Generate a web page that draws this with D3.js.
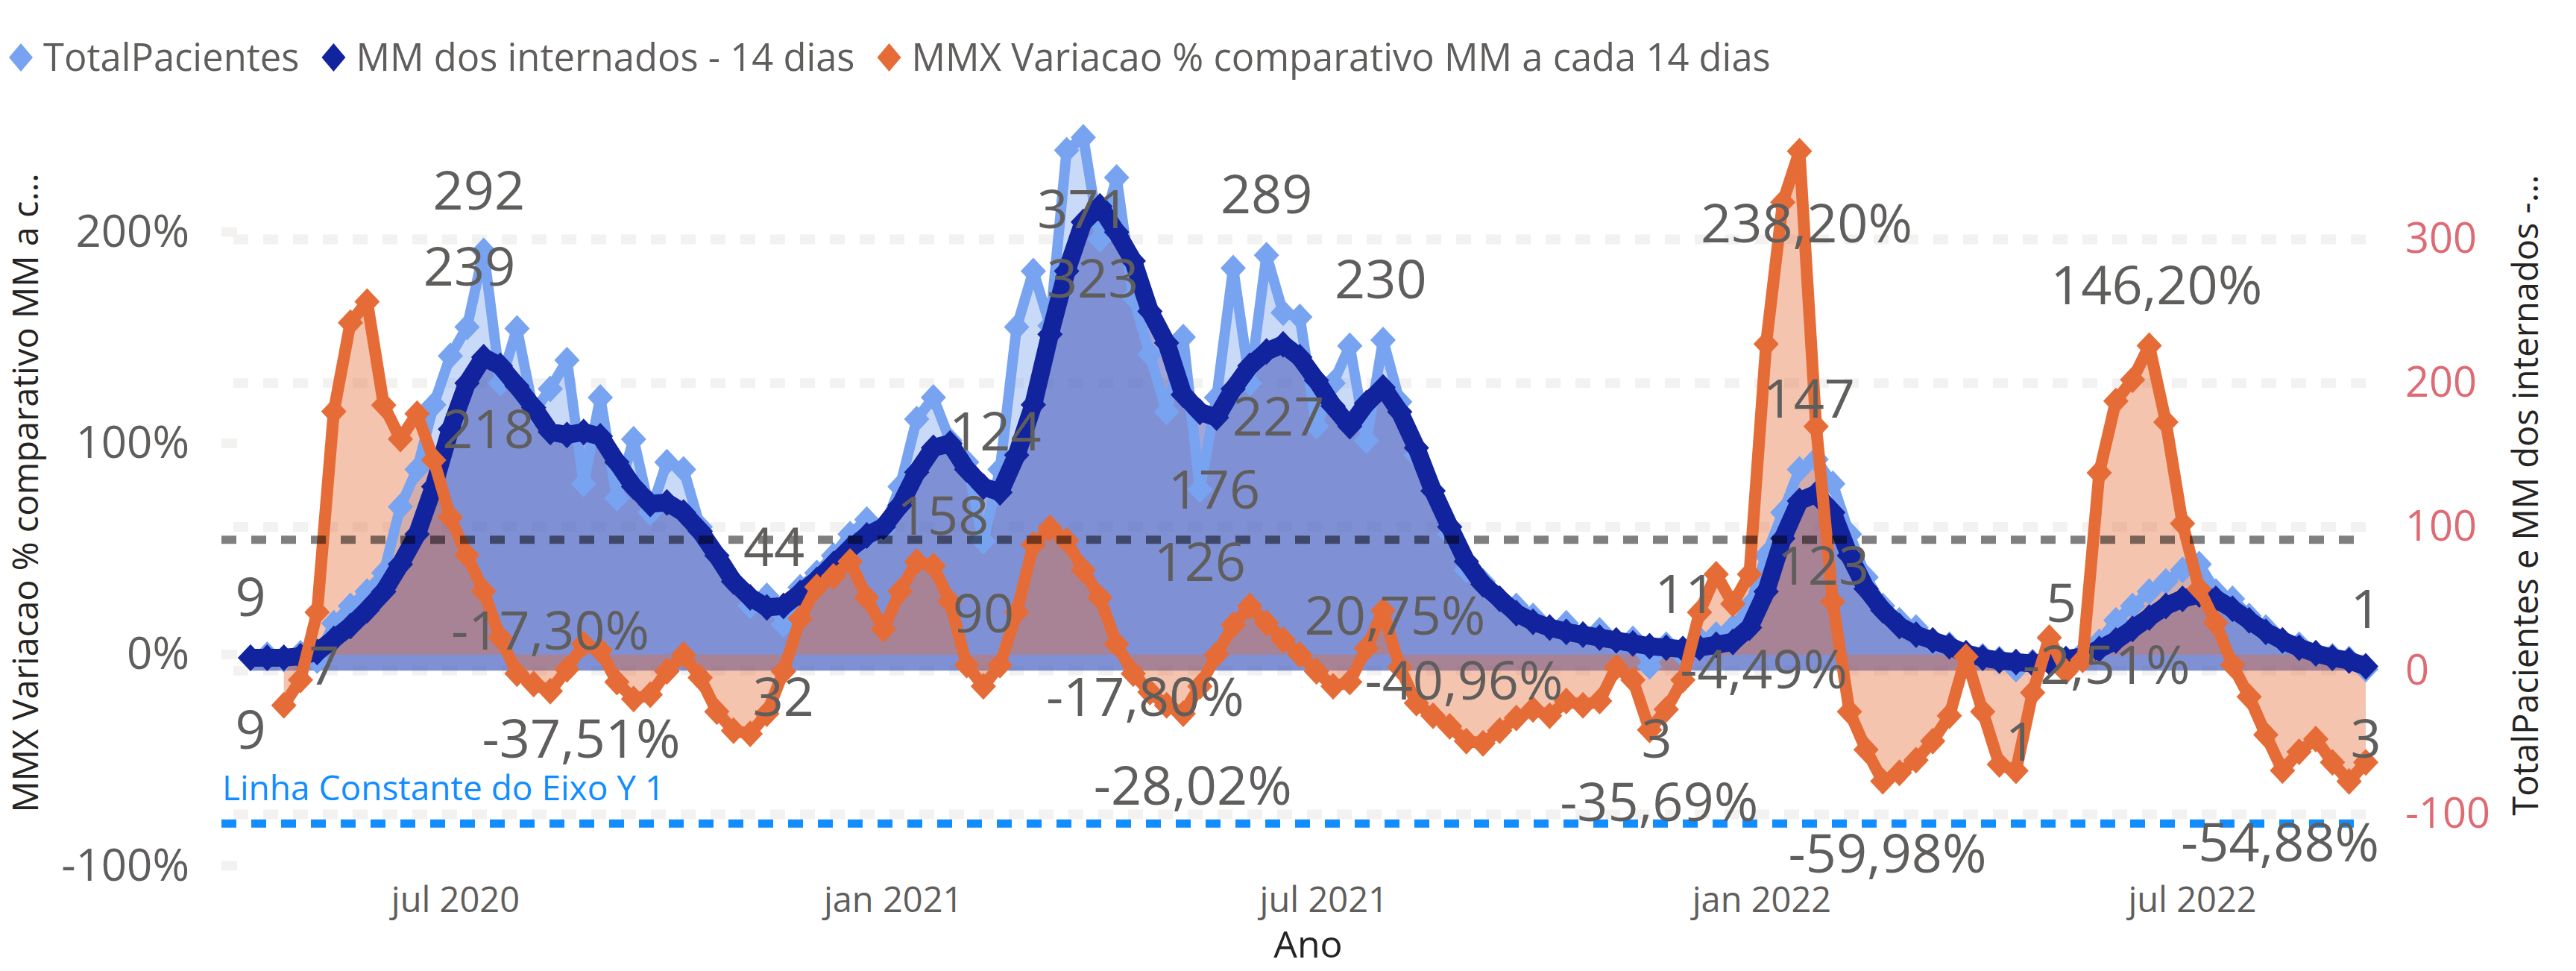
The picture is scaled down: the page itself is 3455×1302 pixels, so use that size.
<!DOCTYPE html>
<html>
<head>
<meta charset="utf-8">
<title>Internados - MM 14 dias</title>
<script src="https://d3js.org/d3.v7.min.js"></script>
<style>
  body { margin: 0; background: #fff; }
  svg { display: block; font-family: "Segoe UI", "Open Sans", sans-serif; }
  .grid line { stroke: #f3f2f1; stroke-width: 13; stroke-dasharray: 20 20; }
  .tick-l text { fill: #605e5c; font-size: 60px; }
  .tick-r text { fill: #de6b74; font-size: 56px; }
  .tick-x text { fill: #605e5c; font-size: 47px; }
  .axis-title { fill: #252423; font-size: 47px; text-anchor: middle; }
  .legend text { fill: #605e5c; font-size: 50.7px; }
  .lbl { fill: #605e5c; font-size: 72px; text-anchor: middle; }
</style>
</head>
<body>
<svg id="chart" width="3455" height="1302"></svg>
<script>

// weekly samples, first day and step
var startDate = "2020-04-06", stepDays = 7;

var totalPacientes = [
  9, 11, 8, 12, 7, 33, 45, 55, 68, 114,
  140, 185, 219, 239, 292, 200, 238, 180, 196, 216,
  130, 190, 120, 161, 110, 145, 140, 100, 80, 62,
  45, 52, 32, 58, 68, 80, 95, 105, 98, 128,
  175, 190, 160, 145, 90, 140, 239, 278, 240, 362,
  371, 300, 343, 260, 220, 180, 232, 126, 190, 280,
  200, 289, 249, 246, 170, 200, 226, 160, 230, 187,
  150, 125, 95, 70, 62, 50, 45, 38, 30, 33,
  25, 28, 20, 22, 3, 18, 11, 22, 25, 30,
  45, 80, 110, 140, 147, 130, 95, 65, 45, 35,
  30, 20, 18, 12, 10, 8, 1, 6, 7, 5,
  12, 20, 35, 45, 55, 62, 70, 74, 55, 50,
  38, 30, 20, 18, 12, 10, 8, 1
];

var mmInternados = [
  9, 9, 9, 10, 13, 22, 31, 42, 55, 74,
  95, 128, 168, 200, 218, 212, 198, 183, 166, 164,
  166, 163, 145, 128, 116, 117, 110, 97, 80, 62,
  51, 44, 45, 54, 63, 74, 85, 94, 100, 115,
  138, 155, 158, 140, 128, 124, 150, 185, 234, 278,
  312, 323, 305, 285, 250, 228, 192, 180, 176, 196,
  212, 222, 227, 218, 202, 184, 170, 186, 197, 180,
  155, 125, 100, 76, 60, 50, 40, 34, 30, 27,
  25, 23, 21, 19, 17, 16, 15, 16, 18, 20,
  30, 55, 92, 118, 123, 110, 80, 57, 42, 31,
  25, 21, 17, 12, 9, 7, 6, 5, 6, 8,
  10, 15, 21, 29, 37, 45, 50, 53, 50, 43,
  35, 27, 21, 16, 12, 9, 7, 3
];

var mmxVariacao = [
  null, null, -24, -12, 20, 115, 157, 167, 118, 102,
  114, 92, 65, 47, 30, 8, -9, -14, -17.3, -7,
  5, 2, -13, -21, -19, -8, 0, -11, -27, -36,
  -37.51, -28, -8, 17, 32, 37, 44, 27, 12, 30,
  44, 42, 25, -5, -15, -5, 20, 52, 60, 54,
  40, 27, 5, -9, -17.8, -24, -28.02, -15, 0, 14,
  23, 15, 7, 0, -8, -15, -13, 3, 20.75, -6,
  -23, -29, -34, -40.96, -42, -36, -30, -26, -29, -22,
  -24, -22, -6, -12, -35.69, -26, -12, 20, 38, 24,
  38, 147, 214, 238.2, 108, 25, -27, -45, -59.98, -56,
  -50, -41, -29, -1, -27, -52, -55, -18, 8, -8,
  -2.51, 86, 120, 130, 146.2, 110, 62, 31, 15, -5,
  -20, -38, -54.88, -46, -40, -51, -60, -51
];

var mediaPacientes = 91;      // linha de media (eixo direito)
var linhaConstanteY1 = -80;   // linha constante do eixo Y 1 (esquerdo)

var leftTicks = [-100, 0, 100, 200];
var rightTicks = [-100, 0, 100, 200, 300];
var xTickDates = ["2020-07-01", "2021-01-01", "2021-07-01", "2022-01-01", "2022-07-01"];
var xTickLabels = ["jul 2020", "jan 2021", "jul 2021", "jan 2022", "jul 2022"];

var seriesNames = ["TotalPacientes", "MM dos internados - 14 dias", "MMX Variacao % comparativo MM a cada 14 dias"];

// data labels shown in the picture
var dataLabels = [
  {s: "tp", d: "2020-04-06", v: 9, p: "above"},
  {s: "mm", d: "2020-04-06", v: 9, p: "below"},
  {s: "tp", d: "2020-05-07", v: 7, p: "on"},
  {s: "tp", d: "2020-07-07", v: 239, p: "above"},
  {s: "tp", d: "2020-07-11", v: 292, p: "above"},
  {s: "mm", d: "2020-07-15", v: 218, p: "below"},
  {s: "mmx", d: "2020-08-10", v: -17.30, p: "above"},
  {s: "mmx", d: "2020-08-23", v: -37.51, p: "on"},
  {s: "mm", d: "2020-11-12", v: 44, p: "above"},
  {s: "tp", d: "2020-11-16", v: 32, p: "below"},
  {s: "mm", d: "2021-01-22", v: 158, p: "below"},
  {s: "tp", d: "2021-02-08", v: 90, p: "below"},
  {s: "mm", d: "2021-02-13", v: 124, p: "above"},
  {s: "tp", d: "2021-03-22", v: 371, p: "below"},
  {s: "mm", d: "2021-03-26", v: 323, p: "below"},
  {s: "mmx", d: "2021-04-17", v: -17.80, p: "on"},
  {s: "mmx", d: "2021-05-07", v: -28.02, p: "below"},
  {s: "tp", d: "2021-05-10", v: 126, p: "below"},
  {s: "mm", d: "2021-05-16", v: 176, p: "below"},
  {s: "tp", d: "2021-06-07", v: 289, p: "above"},
  {s: "mm", d: "2021-06-12", v: 227, p: "below"},
  {s: "tp", d: "2021-07-25", v: 230, p: "above"},
  {s: "mmx", d: "2021-07-31", v: 20.75, p: "on"},
  {s: "mmx", d: "2021-08-29", v: -40.96, p: "above"},
  {s: "tp", d: "2021-11-18", v: 3, p: "below"},
  {s: "mmx", d: "2021-11-19", v: -35.69, p: "below"},
  {s: "tp", d: "2021-11-30", v: 11, p: "above"},
  {s: "mmx", d: "2022-01-02", v: -4.49, p: "on"},
  {s: "mmx", d: "2022-01-20", v: 238.20, p: "below"},
  {s: "tp", d: "2022-01-21", v: 147, p: "above"},
  {s: "mm", d: "2022-01-27", v: 123, p: "below"},
  {s: "mmx", d: "2022-02-23", v: -59.98, p: "below"},
  {s: "tp", d: "2022-04-20", v: 1, p: "below"},
  {s: "tp", d: "2022-05-07", v: 5, p: "above"},
  {s: "mmx", d: "2022-05-26", v: -2.51, p: "on"},
  {s: "mmx", d: "2022-06-16", v: 146.20, p: "above"},
  {s: "mmx", d: "2022-08-07", v: -54.88, p: "below"},
  {s: "tp", d: "2022-09-12", v: 1, p: "above"},
  {s: "mm", d: "2022-09-12", v: 3, p: "below"}
];

var svg = d3.select("#chart");
var parse = d3.timeParse("%Y-%m-%d");
var ptBR = d3.formatLocale({decimal: ",", thousands: ".", grouping: [3], currency: ["R$", ""], minus: "-"});
var fmtPct = ptBR.format(".2f"), fmtInt = ptBR.format("d");

var t0 = parse(startDate);
var dates = totalPacientes.map(function(d, i) { return d3.timeDay.offset(t0, i * stepDays); });

var x = d3.scaleTime().domain([dates[0], dates[dates.length - 1]]).range([336, 3173]);
var yR = d3.scaleLinear().domain([-100, 300]).range([1092, 321]);
var yL = d3.scaleLinear().domain([-100, 200]).range([1161, 311]);

var series = {
  tp:  {values: totalPacientes, y: yR, color: "#78a3f1", width: 14},
  mm:  {values: mmInternados, y: yR, color: "#12239e", width: 24},
  mmx: {values: mmxVariacao, y: yL, color: "#e66c37", width: 16}
};

function diamond(rx, ry) {
  return "M0," + (-ry) + "L" + rx + ",0L0," + ry + "L" + (-rx) + ",0Z";
}

// gridlines
var grid = svg.append("g").attr("class", "grid");
grid.selectAll(".gr").data(rightTicks).enter().append("line")
    .attr("x1", 313).attr("x2", 3192)
    .attr("y1", function(d) { return yR(d); }).attr("y2", function(d) { return yR(d); });
grid.selectAll(".gl").data(leftTicks).enter().append("line")
    .attr("x1", 297).attr("x2", 318)
    .style("stroke-dasharray", "none")
    .attr("y1", function(d) { return yL(d); }).attr("y2", function(d) { return yL(d); });

// areas
var keys = ["tp", "mm", "mmx"];
keys.forEach(function(k) {
  var s = series[k];
  var area = d3.area()
      .defined(function(d) { return d != null; })
      .x(function(d, i) { return x(dates[i]); })
      .y0(s.y(0))
      .y1(function(d) { return s.y(d); });
  svg.append("path").datum(s.values)
      .attr("d", area)
      .attr("fill", s.color)
      .attr("fill-opacity", 0.4);
});

// lines + markers
keys.forEach(function(k) {
  var s = series[k];
  var line = d3.line()
      .defined(function(d) { return d != null; })
      .x(function(d, i) { return x(dates[i]); })
      .y(function(d) { return s.y(d); });
  svg.append("path").datum(s.values)
      .attr("d", line)
      .attr("fill", "none")
      .attr("stroke", s.color)
      .attr("stroke-width", s.width)
      .attr("stroke-linejoin", "round");
  svg.append("g").selectAll("path")
      .data(s.values.map(function(v, i) { return {v: v, t: dates[i]}; }).filter(function(d) { return d.v != null; }))
      .enter().append("path")
      .attr("d", diamond(17, 18))
      .attr("transform", function(d) { return "translate(" + x(d.t) + "," + s.y(d.v) + ")"; })
      .attr("fill", s.color);
});

// reference lines
svg.append("line")
    .attr("x1", 297).attr("x2", 3177)
    .attr("y1", yR(mediaPacientes)).attr("y2", yR(mediaPacientes))
    .attr("stroke", "#000").attr("stroke-opacity", 0.5)
    .attr("stroke-width", 11).attr("stroke-dasharray", "20 20");
svg.append("line")
    .attr("x1", 297).attr("x2", 3177)
    .attr("y1", yL(linhaConstanteY1)).attr("y2", yL(linhaConstanteY1))
    .attr("stroke", "#118dff")
    .attr("stroke-width", 11).attr("stroke-dasharray", "20 20");
svg.append("text")
    .attr("x", 298).attr("y", yL(linhaConstanteY1) - 31)
    .attr("fill", "#118dff").style("font-size", "46px")
    .text("Linha Constante do Eixo Y 1");

// axes
var axL = svg.append("g").attr("class", "tick-l").attr("transform", "translate(254,0)")
    .call(d3.axisLeft(yL).tickValues(leftTicks).tickSize(0).tickPadding(0)
      .tickFormat(function(d) { return fmtInt(d) + "%"; }));
var axR = svg.append("g").attr("class", "tick-r").attr("transform", "translate(3226,0)")
    .call(d3.axisRight(yR).tickValues(rightTicks).tickSize(0).tickPadding(0).tickFormat(fmtInt));
var axX = svg.append("g").attr("class", "tick-x").attr("transform", "translate(0,1190)")
    .call(d3.axisBottom(x).tickValues(xTickDates.map(parse)).tickSize(0).tickPadding(0)
      .tickFormat(function(d, i) { return xTickLabels[i]; }));
[axL, axR, axX].forEach(function(a) {
  a.select(".domain").remove();
  a.attr("font-family", null).attr("font-size", null);
});

svg.append("text").attr("class", "axis-title")
    .attr("transform", "translate(35,661) rotate(-90)").attr("dy", "0.35em")
    .text("MMX Variacao % comparativo MM a c...");
svg.append("text").attr("class", "axis-title")
    .attr("transform", "translate(3388,664) rotate(-90)").attr("dy", "0.35em")
    .text("TotalPacientes e MM dos internados -...");
svg.append("text").attr("class", "axis-title")
    .attr("x", (x.range()[0] + x.range()[1]) / 2).attr("y", 1284)
    .style("font-size", "50px")
    .text("Ano");

// legend
var legend = svg.append("g").attr("class", "legend");
var lx = 28;
[series.tp.color, series.mm.color, series.mmx.color].forEach(function(c, k) {
  legend.append("path").attr("d", diamond(16, 19))
      .attr("transform", "translate(" + lx + ",77)").attr("fill", c);
  var t = legend.append("text").attr("x", lx + 30).attr("y", 77).attr("dy", "0.35em")
      .text(seriesNames[k]);
  lx = lx + 30 + t.node().getComputedTextLength() + 46;
});

// data labels
var offset = {above: -81, below: 97, on: 7};
svg.append("g").selectAll("text").data(dataLabels).enter().append("text")
    .attr("class", "lbl")
    .attr("x", function(d) { return x(parse(d.d)); })
    .attr("y", function(d) { return series[d.s].y(d.v) + offset[d.p]; })
    .attr("dy", "0.35em")
    .text(function(d) { return d.s === "mmx" ? fmtPct(d.v) + "%" : fmtInt(d.v); });

</script>
</body>
</html>
